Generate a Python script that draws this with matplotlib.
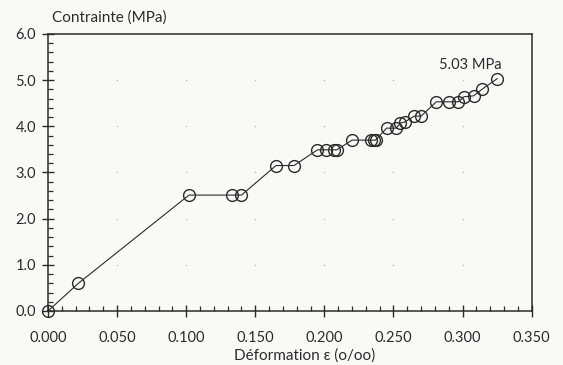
import numpy as np
import matplotlib
matplotlib.use('Agg')
import matplotlib.pyplot as plt
from matplotlib.ticker import MultipleLocator, FormatStrFormatter

# strain (o/oo) and stress (MPa)
deformation = [0.000, 0.022, 0.102, 0.133, 0.140, 0.165, 0.178, 0.195, 0.201,
               0.207, 0.209, 0.220, 0.234, 0.236, 0.237, 0.245, 0.252, 0.255,
               0.258, 0.265, 0.270, 0.281, 0.290, 0.297, 0.301, 0.308, 0.314,
               0.325]
contrainte = [0.00, 0.60, 2.51, 2.51, 2.51, 3.15, 3.15, 3.49, 3.49,
              3.49, 3.49, 3.70, 3.70, 3.70, 3.70, 3.96, 3.96, 4.07,
              4.09, 4.22, 4.22, 4.53, 4.53, 4.53, 4.64, 4.66, 4.80,
              5.03]
x_ticks = [0.0, 0.05, 0.10, 0.15, 0.20, 0.25, 0.30, 0.35]
y_ticks = [0.0, 1.0, 2.0, 3.0, 4.0, 5.0, 6.0]
peak_label = '5.03 MPa'

plt.rcParams['font.family'] = ['Lato', 'DejaVu Sans']
bg = '#f9f9f5'
ink = '#2b2b2b'

fig = plt.figure(figsize=(5.63, 3.65), dpi=100, facecolor=bg)
ax = fig.add_axes([0.0853, 0.148, 0.859, 0.759])
ax.set_facecolor(bg)

# faint dots at the major grid intersections
gx, gy = np.meshgrid(x_ticks[1:-1], y_ticks[1:-1])
ax.scatter(gx.ravel(), gy.ravel(), s=1.2, color='#bdbdb8', zorder=1, linewidths=0)

ax.plot(deformation, contrainte, color=ink, lw=0.8, marker='o', ms=8.5,
        mfc='none', mec=ink, mew=1.0, zorder=3, clip_on=False)

ax.set_xlim(0, 0.35)
ax.set_ylim(0, 6.0)
ax.set_xticks(x_ticks)
ax.set_yticks(y_ticks)
ax.xaxis.set_major_formatter(FormatStrFormatter('%.3f'))
ax.yaxis.set_major_formatter(FormatStrFormatter('%.1f'))
ax.xaxis.set_minor_locator(MultipleLocator(0.01))
ax.yaxis.set_minor_locator(MultipleLocator(0.2))

ax.tick_params(which='major', direction='inout', length=9, width=1.0, color=ink,
               labelsize=10.5, labelcolor=ink)
ax.tick_params(which='minor', direction='in', length=3.5, width=0.9, color=ink)
ax.tick_params(axis='x', which='major', pad=10)
ax.tick_params(axis='y', which='major', pad=4)

for s in ax.spines.values():
    s.set_color(ink)
    s.set_linewidth(1.1)

ax.annotate(peak_label, (deformation[-1], contrainte[-1]), xytext=(3, 5),
            textcoords='offset points', ha='right', va='bottom',
            fontsize=10.5, color=ink)
fig.text(0.093, 0.953, 'Contrainte (MPa)', ha='left', va='center', fontsize=11, color=ink)
ax.set_xlabel('Déformation ε (o/oo)', fontsize=11, color=ink, labelpad=2)
ax.xaxis.set_label_coords(0.53, -0.135)

fig.savefig('out.png', dpi=100, facecolor=bg)
